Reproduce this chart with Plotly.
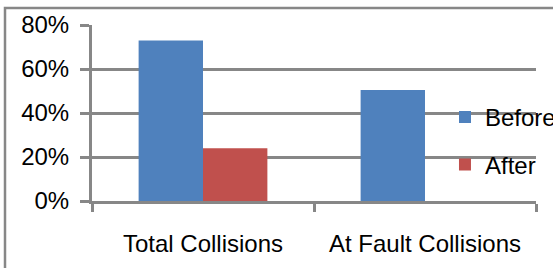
import plotly.graph_objects as go

categories = ["Total Collisions", "At Fault Collisions"]
before = [0.73, 0.505]
after = [0.24, 0.0]
y_ticks = [0, 0.2, 0.4, 0.6, 0.8]
y_tick_labels = ["0%", "20%", "40%", "60%", "80%"]

FONT = "Liberation Sans, Arial, sans-serif"
GRAY = "#878787"

fig = go.Figure()
fig.add_trace(go.Bar(name="Before", x=categories, y=before,
                     marker=dict(color="#4F81BD", line=dict(width=0)),
                     legend="legend"))
fig.add_trace(go.Bar(name="After", x=categories, y=after,
                     marker=dict(color="#C0504D", line=dict(width=0)),
                     legend="legend2"))

fig.update_layout(
    width=553, height=268,
    margin=dict(l=92, r=17, t=25, b=67, autoexpand=False),
    paper_bgcolor="white", plot_bgcolor="white",
    barmode="group", bargap=0.42, bargroupgap=0,
    font=dict(family=FONT, size=24, color="black"),
    legend=dict(x=0.795, y=0.475, xanchor="left", yanchor="middle",
                bgcolor="rgba(0,0,0,0)", font=dict(size=24)),
    legend2=dict(x=0.795, y=0.205, xanchor="left", yanchor="middle",
                 bgcolor="rgba(0,0,0,0)", font=dict(size=24)),
    showlegend=True,
)
fig.update_xaxes(
    showline=True, linecolor=GRAY, linewidth=3,
    ticks="outside", tickson="boundaries", ticklen=8, tickwidth=3, tickcolor=GRAY,
    showgrid=False, tickfont=dict(size=24, family=FONT),
    ticklabelstandoff=19,
)
fig.update_yaxes(
    range=[0, 0.8], tickvals=y_ticks, ticktext=y_tick_labels,
    showline=True, linecolor=GRAY, linewidth=3,
    showgrid=True, gridcolor=GRAY, gridwidth=3,
    ticks="outside", ticklen=9, tickwidth=3, tickcolor=GRAY,
    tickfont=dict(size=24, family=FONT), zeroline=False,
    ticklabelstandoff=6,
)
# outer chart frame (cropped on right and bottom)
fig.add_shape(type="rect", xref="paper", yref="paper",
              x0=(5 - 92) / 444, x1=1.2, y0=-0.6, y1=(201 - 8) / 176,
              line=dict(color=GRAY, width=2.5), layer="below")

fig.write_html("out.html", config={"displayModeBar": False},
               post_script="document.body.style.margin='0';")
